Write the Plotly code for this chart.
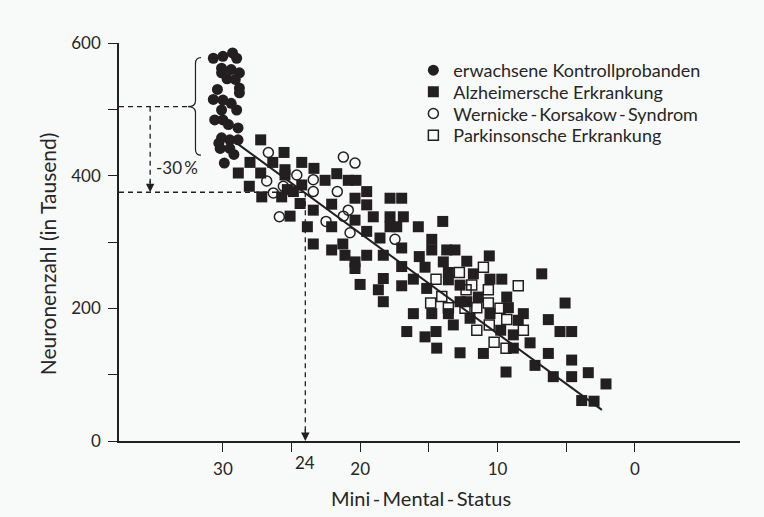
import plotly.graph_objects as go

# ---------------- data ----------------
ctrl_x = [30.7, 30.0, 29.3, 29.0, 30.1, 30.1, 29.4, 28.8, 29.7, 29.1, 28.8, 28.8, 30.7, 30.0,
          29.4, 29.0, 30.1, 30.6, 30.0, 29.6, 28.9, 30.1, 30.3, 29.5, 28.9, 30.2, 29.5, 29.9,
          30.4, 29.2]
ctrl_y = [577, 580, 585, 577, 562, 555, 560, 555, 546, 545, 532, 525, 515, 514,
          509, 499, 499, 484, 484, 477, 472, 457, 449, 454, 454, 441, 441, 419,
          530, 432]

alz_x = [27.25, 25.55, 28.03, 26.37, 24.26, 23.37, 25.48, 25.48, 28.88, 27.25,
         21.71, 20.87, 20.31, 22.56, 24.26, 28.08, 25.31, 24.87, 19.53, 27.17,
         25.72, 20.38, 17.83, 16.98, 24.38, 22.08, 23.42, 19.53, 25.11, 20.38,
         19.05, 17.83, 16.86, 23.85, 22.08, 17.83, 17.34, 15.77, 19.53, 18.56,
         23.42, 22.08, 21.11, 19.53, 18.32, 16.98, 21.27, 20.38, 20.38,
         18.32, 20.01, 18.68, 18.32,
         13.99, 14.79, 14.79, 13.70, 13.10, 15.70, 13.95, 12.24, 10.60, 16.98, 15.28,
         13.58, 16.13, 16.98, 15.16, 13.58, 12.73, 11.76, 10.55, 9.69, 6.78,
         12.73, 12.24, 11.40, 10.55, 9.33, 9.21, 8.12, 16.13, 14.79, 13.58,
         12.00, 13.22, 9.77, 16.61, 15.28, 14.48, 8.85, 8.49, 7.63, 14.43,
         12.73, 11.03, 6.30, 7.27, 9.38, 5.45, 4.60, 5.08, 4.60, 5.94, 4.60,
         6.30, 8.85, 3.39, 2.10, 3.87, 2.97]
alz_y = [454, 435, 420, 420, 420, 411, 409, 401, 404, 404,
         403, 393, 393, 393, 386, 384, 379, 376, 376, 368,
         368, 366, 366, 366, 358, 357, 348, 356, 339, 333,
         338, 338, 338, 323, 323, 323, 323, 323, 316, 306,
         297, 288, 280, 280, 280, 291, 297, 270, 260,
         245, 236, 228, 210,
         331, 304, 288, 288, 288, 278, 270, 271, 279, 263, 262,
         254, 244, 234, 230, 243, 235, 252, 244, 244, 252,
         210, 210, 217, 192, 217, 201, 192, 192, 192, 192,
         185, 175, 167, 165, 157, 165, 160, 182, 148, 140,
         133, 132, 132, 114, 104, 165, 165, 208, 122, 97, 97,
         183, 140, 103, 86, 61, 60]

wk_x = [26.69, 21.23, 20.38, 24.62, 26.81, 23.42, 25.60, 26.33, 23.42, 21.67,
        20.87, 21.23, 25.89, 22.49, 20.74, 17.47]
wk_y = [435, 428, 419, 401, 392, 394, 384, 374, 376, 376,
        348, 339, 338, 331, 314, 304]

park_x = [11.03, 12.78, 14.48, 11.88, 12.29, 10.67, 8.49, 14.06, 14.87, 13.58,
          12.37, 11.51, 10.67, 9.82, 9.33, 11.51, 10.60, 8.12, 10.25, 9.38]
park_y = [262, 254, 244, 235, 228, 228, 234, 218, 208, 201,
          200, 201, 208, 200, 183, 167, 175, 167, 149, 140]

fit_x = [29.0, 2.4]
fit_y = [449, 47]

control_level = 504      # mean of controls
reduced_level = 375      # -30 %
mmse_mark = 24

x_ticks = [30, 25, 20, 15, 10, 5, 0]
x_ticktext = ["30", "", "20", "", "10", "", "0"]
y_ticks = [0, 100, 200, 300, 400, 500, 600]
y_ticktext = ["0", "", "200", "", "400", "", "600"]

X_RANGE = [37.57, -7.66]
Y_RANGE = [0, 600]

# ---------------- style ----------------
INK = "#231f20"
TXT = "#262626"
BG = "#f8faf9"
FONT = "Lato"

fig = go.Figure()
fig.add_trace(go.Scatter(x=ctrl_x, y=ctrl_y, mode="markers", name="erwachsene Kontrollprobanden",
                         legend="legend",
                         marker=dict(symbol="circle", size=11, color=INK)))
fig.add_trace(go.Scatter(x=alz_x, y=alz_y, mode="markers", name="Alzheimersche Erkrankung",
                         legend="legend2",
                         marker=dict(symbol="square", size=11, color=INK)))
fig.add_trace(go.Scatter(x=wk_x, y=wk_y, mode="markers",
                         name="Wernicke\u2009-\u2009Korsakow\u2009-\u2009Syndrom",
                         legend="legend3",
                         marker=dict(symbol="circle-open", size=10, color=INK, line=dict(width=1.5))))
fig.add_trace(go.Scatter(x=park_x, y=park_y, mode="markers", name="Parkinsonsche Erkrankung",
                         legend="legend4",
                         marker=dict(symbol="square-open", size=10, color=INK, line=dict(width=1.5))))
fig.add_trace(go.Scatter(x=fit_x, y=fit_y, mode="lines", line=dict(color=INK, width=2),
                         showlegend=False, hoverinfo="skip"))

dash = dict(color=INK, width=1.3, dash="5px,4px")
brace_x = 32.0
fig.add_shape(type="line", xref="x", yref="y", x0=X_RANGE[0], x1=brace_x + 0.55,
              y0=control_level, y1=control_level, line=dash, layer="below")
fig.add_shape(type="line", xref="x", yref="y", x0=X_RANGE[0], x1=mmse_mark,
              y0=reduced_level, y1=reduced_level, line=dash, layer="below")
fig.add_shape(type="line", xref="x", yref="y", x0=mmse_mark, x1=mmse_mark,
              y0=reduced_level, y1=12, line=dash, layer="below")
fig.add_shape(type="line", xref="x", yref="y", x0=35.3, x1=35.3,
              y0=control_level, y1=reduced_level + 14, line=dash, layer="below")

# curly brace around control group
bt, bb, bm = 578, 431, control_level
bx, tip, end = brace_x, brace_x + 0.55, brace_x - 0.4
path = (f"M {end},{bt} Q {bx},{bt} {bx},{bt-9} L {bx},{bm+9} Q {bx},{bm} {tip},{bm} "
        f"Q {bx},{bm} {bx},{bm-9} L {bx},{bb+9} Q {bx},{bb} {end},{bb}")
fig.add_shape(type="path", xref="x", yref="y", path=path, line=dict(color=INK, width=1.2))

ann = [
    dict(x=mmse_mark, y=0, xref="x", yref="y", ax=0, ay=-13, text="", showarrow=True,
         arrowhead=2, arrowsize=1.3, arrowwidth=1.3, arrowcolor=INK, standoff=0),
    dict(x=35.3, y=reduced_level, xref="x", yref="y", ax=0, ay=-13, text="", showarrow=True,
         arrowhead=2, arrowsize=1.3, arrowwidth=1.3, arrowcolor=INK, standoff=0),
    dict(x=35.0, y=413, xref="x", yref="y", text="-30\u2009%", showarrow=False,
         xanchor="left", yanchor="middle", font=dict(family=FONT, size=17, color=TXT)),
    dict(x=mmse_mark, y=-0.054, xref="x", yref="paper", text="24", showarrow=False,
         xanchor="center", yanchor="middle", font=dict(family=FONT, size=17, color=TXT)),
    dict(x=-0.116, y=283, xref="paper", yref="y", text="Neuronenzahl (in Tausend)",
         textangle=-90, showarrow=False, xanchor="center", yanchor="middle",
         font=dict(family=FONT, size=21, color=TXT)),
    dict(x=15.6, y=-0.142, xref="x", yref="paper", text="Mini\u2009-\u2009Mental\u2009-\u2009Status",
         showarrow=False, xanchor="center", yanchor="middle",
         font=dict(family=FONT, size=20, color=TXT)),
]

leg_common = dict(x=0.474, xanchor="left", yanchor="top", bgcolor="rgba(0,0,0,0)",
                  font=dict(family=FONT, size=18, color=TXT), itemsizing="trace")

fig.update_layout(
    width=764, height=517,
    margin=dict(l=119, r=24, t=43, b=76),
    paper_bgcolor=BG, plot_bgcolor=BG,
    font=dict(family=FONT, size=17, color=TXT),
    showlegend=True,
    legend=dict(y=0.9775, **leg_common),
    legend2=dict(y=0.923, **leg_common),
    legend3=dict(y=0.8685, **leg_common),
    legend4=dict(y=0.814, **leg_common),
    annotations=ann,
    xaxis=dict(range=X_RANGE, tickvals=x_ticks, ticktext=x_ticktext, ticks="outside",
               ticklen=9, tickwidth=1.3, tickcolor=INK, showline=True, linecolor=INK,
               linewidth=1.5, showgrid=False, zeroline=False, ticklabelstandoff=3,
               tickfont=dict(family=FONT, size=17, color=TXT)),
    yaxis=dict(range=Y_RANGE, tickvals=y_ticks, ticktext=y_ticktext, ticks="outside",
               ticklen=9, tickwidth=1.3, tickcolor=INK, showline=True, linecolor=INK,
               linewidth=1.5, showgrid=False, zeroline=False, ticklabelstandoff=4,
               tickfont=dict(family=FONT, size=17, color=TXT)),
)

fig.write_html("out.html")
